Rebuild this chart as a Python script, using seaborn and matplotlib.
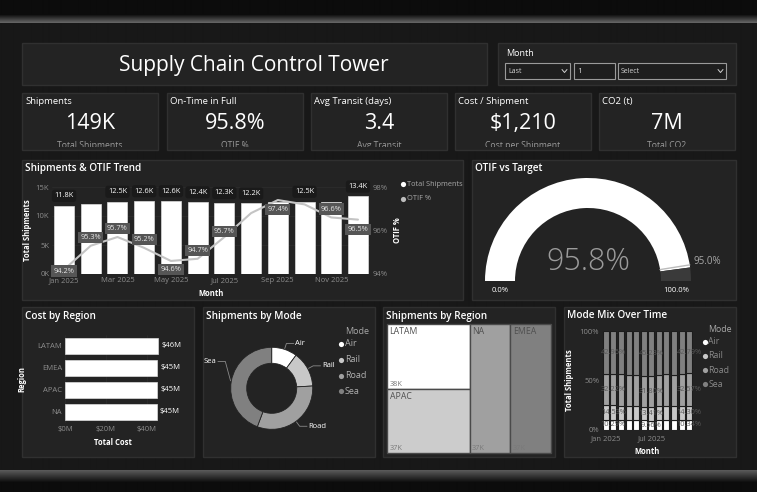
import numpy as np
import pandas as pd
import seaborn as sns
import matplotlib.pyplot as plt
from matplotlib.patches import Rectangle, Wedge

# ---- data ----
months = ['Jan 2025', 'Feb 2025', 'Mar 2025', 'Apr 2025', 'May 2025', 'Jun 2025',
          'Jul 2025', 'Aug 2025', 'Sep 2025', 'Oct 2025', 'Nov 2025', 'Dec 2025']
shipments_k = [11.8, 12.1, 12.5, 12.6, 12.6, 12.4, 12.3, 12.2, 12.4, 12.5, 12.4, 13.4]
otif_pct = [94.2, 95.3, 95.7, 95.2, 94.6, 94.7, 95.7, 96.8, 97.4, 97.2, 96.6, 96.5]

kpi_titles = ['Shipments', 'On-Time in Full', 'Avg Transit (days)', 'Cost / Shipment', 'CO2 (t)']
kpi_values = ['149K', '95.8%', '3.4', '$1,210', '7M']
kpi_subtitles = ['Total Shipments', 'OTIF %', 'Avg Transit', 'Cost per Shipment', 'Total CO2']

otif_actual = 95.8
otif_target = 95.0

regions = ['LATAM', 'EMEA', 'APAC', 'NA']
cost_m = [45.7, 45.2, 45.1, 44.9]

modes = ['Air', 'Rail', 'Road', 'Sea']
mode_share = [10.1, 14.0, 31.6, 44.3]

tree_regions = ['LATAM', 'APAC', 'NA', 'EMEA']
tree_shipments_k = [38, 37, 37, 37]

mix_air = [10.29, 10.29, 10.4, 9.9, 10.2, 9.7, 9.56, 10.5, 10.2, 9.8, 10.3, 10.34]
mix_rail = [14.53, 14.53, 14.0, 14.3, 13.8, 13.5, 13.41, 13.9, 14.4, 14.0, 14.3, 14.30]
mix_road = [32.23, 32.22, 31.8, 31.0, 31.2, 31.6, 31.80, 31.6, 31.5, 32.1, 32.1, 32.57]
mix_sea = [42.95, 42.96, 43.8, 44.8, 44.8, 45.2, 45.23, 44.0, 43.9, 44.1, 43.3, 42.79]

# ---- style ----
sns.set_theme(style='dark')
plt.rcParams['font.family'] = ['Open Sans', 'DejaVu Sans']
plt.rcParams['axes.facecolor'] = 'none'

W, H = 757, 492
fig = plt.figure(figsize=(W / 100, H / 100), dpi=100)
fig.patch.set_facecolor('#181818')

mode_colors = ['#ffffff', '#c8c8c8', '#a0a0a0', '#808080']
PANEL = '#232323'
EDGE = '#303030'
TICK = '#8c8c8c'


def px_axes(x0, y0, x1, y1):
    a = fig.add_axes([x0 / W, 1 - y1 / H, (x1 - x0) / W, (y1 - y0) / H])
    a.set_facecolor('none')
    return a


def clean(a):
    for s in a.spines.values():
        s.set_visible(False)
    a.tick_params(length=0, colors=TICK, labelsize=5.5, pad=2)


# background canvas
bg = fig.add_axes([0, 0, 1, 1])
bg.set_xlim(0, W)
bg.set_ylim(H, 0)
bg.axis('off')
g = np.full(H, 24.0)
g[:14] = 12
g[14:23] = np.linspace(12, 100, 9)
g[470:483] = np.linspace(90, 12, 13)
g[483:] = 12
bg.imshow(np.repeat(g[:, None], 2, axis=1) / 255, cmap='gray', vmin=0, vmax=1,
          extent=(0, W, H, 0), aspect='auto', interpolation='bilinear')


def panel(x0, y0, x1, y1, title=None):
    r = Rectangle((x0, y0), x1 - x0, y1 - y0, fc=PANEL, ec=EDGE, lw=1)
    bg.add_patch(r)
    if title:
        bg.text(x0 + 3, y0 + 9, title, color='white', fontsize=7.2,
                fontweight='semibold', va='center', ha='left')
    return r


# title + slicer
panel(22, 43, 487, 85)
bg.text(254, 65, 'Supply Chain Control Tower', color='white', fontsize=15,
        ha='center', va='center')
panel(498, 43, 736, 85)
bg.text(506, 53, 'Month', color='white', fontsize=6.5, va='center')
for (x0, x1, label, chevron) in [(505, 570, 'Last', True), (574, 615, '1', False),
                                 (618, 726, 'Select', True)]:
    bg.add_patch(Rectangle((x0, 63), x1 - x0, 16, fc='#1e1e1e', ec='#9a9a9a', lw=0.8))
    bg.text(x0 + 3, 71.5, label, color='#d0d0d0', fontsize=5 if chevron else 6,
            va='center')
    if chevron:
        bg.plot([x1 - 8, x1 - 5.5, x1 - 3], [69.5, 72.5, 69.5], color='#d0d0d0', lw=0.7)

# KPI cards
card_x = [(22, 158), (167, 303), (311, 447), (455, 591), (599, 735)]
for (x0, x1), t, v, s in zip(card_x, kpi_titles, kpi_values, kpi_subtitles):
    panel(x0, 93, x1, 150)
    bg.text(x0 + 3, 101.5, t, color='white', fontsize=6.8, va='center')
    bg.text((x0 + x1) / 2, 123.5, v, color='white', fontsize=15.5, ha='center', va='center')
    st = bg.text((x0 + x1) / 2, 146, s, color='#9a9a9a', fontsize=6.2,
                 ha='center', va='center')
    clip = Rectangle((x0, 93), x1 - x0, 54, transform=bg.transData)
    st.set_clip_path(clip)
    st.set_clip_on(True)

# ---- Shipments & OTIF trend ----
panel(22, 160, 463, 300, 'Shipments & OTIF Trend')
ax = px_axes(52, 187, 370, 274)
x_idx = list(range(len(months)))
sns.barplot(x=x_idx, y=shipments_k, color='white', saturation=1, width=0.75,
            ax=ax, edgecolor='#dddddd', linewidth=0.5)
clean(ax)
ax.set_ylim(0, 15)
ax.set_xlim(-0.45, 11.45)
ax.set_yticks([0, 5, 10, 15], ['0K', '5K', '10K', '15K'])
ax.set_xticks(x_idx[::2], months[::2])
ax.grid(axis='y', color='#2c2c2c', lw=0.6)
ax.set_axisbelow(True)
ax.set_ylabel('Total Shipments', color='white', fontsize=5.5, fontweight='bold', labelpad=3)
ax.set_xlabel('Month', color='white', fontsize=5.5, fontweight='bold', labelpad=4)
bar_label_show = [1, 0, 1, 1, 1, 1, 1, 1, 0, 1, 0, 1]
for i, (v, show) in enumerate(zip(shipments_k, bar_label_show)):
    if show:
        ax.annotate(f'{v}K', (i, v), xytext=(0, 7), textcoords='offset points',
                    ha='center', va='center', fontsize=5.3, color='white',
                    bbox=dict(boxstyle='round,pad=0.35', fc='#1a1a1a', ec='none'))

ax2 = ax.twinx()
sns.lineplot(x=x_idx, y=otif_pct, ax=ax2, color='#c4c4c4', lw=1.5)
clean(ax2)
ax2.set_ylim(94, 98)
ax2.set_yticks([94, 96, 98], ['94%', '96%', '98%'])
ax2.set_ylabel('OTIF %', color='white', fontsize=5.5, fontweight='bold', labelpad=4)
ax2.grid(False)
otif_label_offset = [-1, 6, 6, 6, -6, 6, 4, None, -7, None, 6, -7]
for i, (v, off) in enumerate(zip(otif_pct, otif_label_offset)):
    if off is not None:
        ax2.annotate(f'{v}%', (i, v), xytext=(0, off), textcoords='offset points',
                     ha='center', va='center', fontsize=5.3, color='#e6e6e6',
                     bbox=dict(boxstyle='square,pad=0.3', fc='#555555', ec='none'))
for yy, lab, col in [(184, 'Total Shipments', 'white'), (199, 'OTIF %', '#bdbdbd')]:
    bg.scatter([403], [yy], s=14, color=col, lw=0)
    bg.text(407, yy, lab, color='#a8a8a8', fontsize=5.3, va='center')

# ---- OTIF gauge ----
panel(472, 160, 736, 300, 'OTIF vs Target')
ga = px_axes(472, 160, 736, 300)
ga.set_xlim(472, 736)
ga.set_ylim(H - 300, H - 160)
ga.axis('off')
cx, cy, R, r_in = 588, H - 281, 103, 73
a_val = 180 - 180 * otif_actual / 100
ga.add_patch(Wedge((cx, cy), R, a_val, 180, width=R - r_in, fc='white', ec='none'))
ga.add_patch(Wedge((cx, cy), R, 0, a_val, width=R - r_in, fc='#3a3a3a', ec='none'))
a_t = np.deg2rad(180 - 180 * otif_target / 100)
ga.plot([cx + r_in * np.cos(a_t), cx + R * np.cos(a_t)],
        [cy + r_in * np.sin(a_t), cy + R * np.sin(a_t)], color='#bbbbbb', lw=1)
ga.text(cx, H - 262, f'{otif_actual}%', color='#9b9b9b', fontsize=22,
        ha='center', va='center', fontweight='light')
ga.text(cx - (R + r_in) / 2, H - 290, '0.0%', color='white', fontsize=5.5, ha='center', va='center')
ga.text(cx + (R + r_in) / 2, H - 290, '100.0%', color='white', fontsize=5.5, ha='center', va='center')
ga.text(693, H - 261, f'{otif_target}%', color='#a8a8a8', fontsize=7, ha='left', va='center')

# ---- Cost by Region ----
panel(22, 307, 194, 457, 'Cost by Region')
ca = px_axes(65, 335, 161, 423)
sns.barplot(x=cost_m, y=regions, orient='h', color='white', saturation=1, width=0.77,
            ax=ca, edgecolor='#dddddd', linewidth=0.5)
clean(ca)
ca.set_xlim(0, 47)
ca.set_xticks([0, 20, 40], ['$0M', '$20M', '$40M'])
ca.grid(axis='x', color='#2c2c2c', lw=0.6)
ca.grid(axis='y', visible=False)
ca.set_axisbelow(True)
ca.set_xlabel('Total Cost', color='white', fontsize=5.5, fontweight='bold', labelpad=4)
ca.set_ylabel('Region', color='white', fontsize=5.5, fontweight='bold', labelpad=8)
for i, v in enumerate(cost_m):
    ca.text(v + 1.5, i, f'${v:.0f}M', color='white', fontsize=5.5, va='center', ha='left')

# ---- Shipments by Mode (donut) ----
panel(203, 307, 375, 457, 'Shipments by Mode')
da = px_axes(271.7 - 61.5, 388.3 - 61.5, 271.7 + 61.5, 388.3 + 61.5)
wedges, _ = da.pie(mode_share, colors=mode_colors, startangle=90, counterclock=False,
                   wedgeprops=dict(width=0.39, edgecolor='#232323', linewidth=0.6))
da.set_xlim(-1.5, 1.5)
da.set_ylim(-1.5, 1.5)
label_lift = [0, 0, 0, 0.45]
for w, name, lift in zip(wedges, modes, label_lift):
    ang = np.deg2rad((w.theta1 + w.theta2) / 2)
    x, y = np.cos(ang), np.sin(ang)
    side = 1 if x >= 0 else -1
    ey = 1.15 * y + lift
    da.plot([1.02 * x, 1.15 * x, 1.15 * x + side * 0.18], [1.02 * y, ey, ey],
            color='#8a8a8a', lw=0.6, clip_on=False)
    da.text(1.15 * x + side * 0.22, ey, name, color='white', fontsize=5.5,
            ha='left' if side > 0 else 'right', va='center', clip_on=False)
bg.text(345, 331, 'Mode', color='#a8a8a8', fontsize=6.5, va='center')
for k, (name, col) in enumerate(zip(modes, mode_colors)):
    yy = 344 + k * 15.8
    bg.scatter([341], [yy], s=14, color=col, lw=0)
    bg.text(345, yy, name, color='#b0b0b0', fontsize=6.5, va='center')

# ---- Shipments by Region (treemap) ----
panel(383, 307, 555, 457, 'Shipments by Region')
tx0, ty0, tx1, ty1 = 387, 324, 551, 453
groups = [[0, 1], [2], [3]]
total = sum(tree_shipments_k)
tree_colors = ['#ffffff', '#cccccc', '#a0a0a0', '#808080']
cur_x = tx0
for grp in groups:
    gsum = sum(tree_shipments_k[j] for j in grp)
    gw = (tx1 - tx0) * gsum / total
    cur_y = ty0
    for j in grp:
        hh = (ty1 - ty0) * tree_shipments_k[j] / gsum
        bg.add_patch(Rectangle((cur_x, cur_y), gw, hh, fc=tree_colors[j], ec='#4a4a4a', lw=1))
        bg.text(cur_x + 2.5, cur_y + 7, tree_regions[j], color='#505050', fontsize=6.3, va='center')
        bg.text(cur_x + 2.5, cur_y + hh - 4.5, f'{tree_shipments_k[j]}K', color='#7a7a7a',
                fontsize=5.3, va='center')
        cur_y += hh
    cur_x += gw

# ---- Mode Mix Over Time ----
panel(564, 307, 736, 457, 'Mode Mix Over Time')
ma = px_axes(602, 331, 693, 430)
mix = pd.DataFrame({'Air': mix_air, 'Rail': mix_rail, 'Road': mix_road, 'Sea': mix_sea})
mix_norm = mix.div(mix.sum(axis=1), axis=0) * 100
bottom = np.zeros(len(months))
for name, col in zip(modes, mode_colors):
    ma.bar(x_idx, mix_norm[name], bottom=bottom, width=0.8, color=col,
           edgecolor='#1c1c1c', linewidth=0.8)
    for i in [1, 6, 11]:
        ma.text(i, bottom[i] + mix_norm[name][i] / 2, f'{mix[name][i]:.2f}%',
                color='#5a5a5a', fontsize=5.3, ha='center', va='center')
    bottom += mix_norm[name].values
clean(ma)
ma.tick_params(axis='x', pad=4)
ma.set_xlim(-0.5, 11.5)
ma.set_ylim(0, 100)
ma.set_yticks([0, 50, 100], ['0%', '50%', '100%'])
ma.set_xticks([0, 6], [months[0], months[6]])
ma.set_ylabel('Total Shipments', color='white', fontsize=5.5, fontweight='bold', labelpad=4)
ma.set_xlabel('Month', color='white', fontsize=5.5, fontweight='bold', labelpad=3)
bg.text(708, 329.5, 'Mode', color='#a8a8a8', fontsize=6.3, va='center')
for k, (name, col) in enumerate(zip(modes, mode_colors)):
    yy = 341.7 + k * 14.2
    bg.scatter([704.5], [yy], s=14, color=col, lw=0)
    bg.text(708.5, yy, name, color='#8a8a8a', fontsize=6.3, va='center')

fig.savefig('out.png', dpi=100, facecolor=fig.get_facecolor())
